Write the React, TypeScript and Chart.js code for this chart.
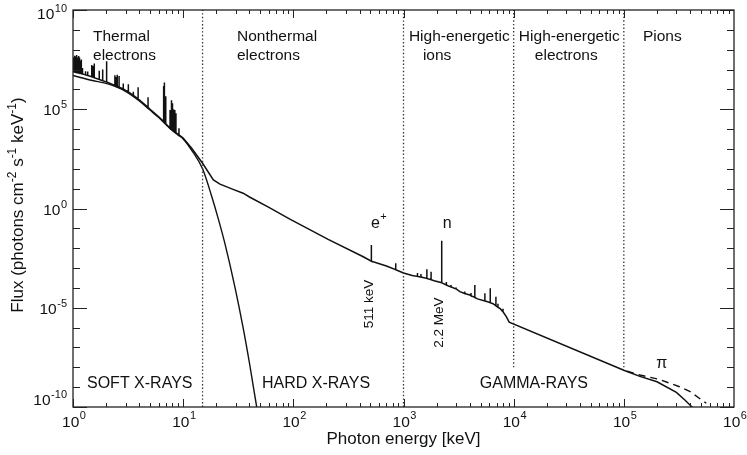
import React, { useEffect, useRef } from "react";
import { Chart, registerables } from "chart.js";

Chart.register(...registerables);

const FONT = "'Liberation Sans', Arial, Helvetica, sans-serif";
const INK = "#111";

// Total spectrum continuum (photon energy keV, flux photons cm^-2 s^-1 keV^-1)
const continuumEnergy = [1, 1.5, 2, 2.5, 3, 4, 5, 6, 7, 8, 9, 10, 12, 15, 18.8, 21.6, 28, 35, 40, 60, 93, 207, 431, 700, 1000, 1200, 1900, 2600, 3250, 3990, 4700, 5800, 6500, 7500, 8600, 9100, 1e5, 1.4e5, 2e5, 3e5, 3.6e5, 4.2e5];
const continuumFlux = [7.9e6, 4.2e6, 2.4e6, 1.5e6, 8.9e5, 3.0e5, 1.0e5, 4.2e4, 1.8e4, 9.1e3, 5.5e3, 3.5e3, 1.05e3, 190, 27.5, 17, 9.5, 5.9, 3.8, 1.15, 0.29, 0.028, 3.7e-3, 1.26e-3, 5.6e-4, 4.2e-4, 2.3e-4, 1.2e-4, 6.5e-5, 4.4e-5, 2.8e-5, 2.0e-5, 1.6e-5, 9.3e-6, 3.5e-6, 1.9e-6, 7.1e-9, 3.5e-9, 1.86e-9, 5.4e-10, 2.2e-10, 9.5e-11];

// Spectral lines: energy, continuum under the line, peak flux
const spikeEnergy = [1.01, 1.02, 1.03, 1.04, 1.05, 1.06, 1.07, 1.085, 1.10, 1.12, 1.13, 1.145, 1.16, 1.19, 1.22, 1.30, 1.36, 1.48, 1.52, 1.56, 1.73, 1.86, 2.02, 2.40, 2.46, 2.52, 2.62, 2.86, 3.18, 3.53, 3.90, 4.80, 6.65, 6.70, 6.75, 6.80, 6.95, 7.60, 7.80, 7.86, 8.00, 8.10, 8.25, 8.40, 8.60, 9.16, 511, 850, 1340, 1440, 1630, 1780, 2223, 2450, 2700, 3000, 3600, 4100, 4440, 5480, 6130, 6900, 7200, 8000];
const spikeBase = [7.8e6, 7.7e6, 7.6e6, 7.5e6, 7.4e6, 7.3e6, 7.2e6, 7.0e6, 6.9e6, 6.8e6, 6.7e6, 6.6e6, 6.5e6, 6.2e6, 6.0e6, 5.4e6, 5.0e6, 4.3e6, 4.1e6, 3.9e6, 3.2e6, 2.75e6, 2.35e6, 1.6e6, 1.55e6, 1.45e6, 1.3e6, 1.05e6, 7.6e5, 5.0e5, 3.3e5, 1.26e5, 2.4e4, 2.3e4, 2.25e4, 2.2e4, 1.9e4, 1.1e4, 1.0e4, 9.8e3, 9.1e3, 8.5e3, 8.0e3, 7.2e3, 6.6e3, 5.1e3, 2.2e-3, 8.3e-4, 3.8e-4, 3.5e-4, 3.0e-4, 2.6e-4, 1.8e-4, 1.4e-4, 1.12e-4, 8.9e-5, 5.2e-5, 4.0e-5, 3.3e-5, 2.2e-5, 1.8e-5, 1.26e-5, 1.05e-5, 6.3e-6];
const spikePeak = [4.2e7, 3.0e7, 5.0e7, 4.4e7, 3.5e7, 4.6e7, 5.4e7, 3.8e7, 4.0e7, 3.6e7, 4.8e7, 4.0e7, 2.8e7, 3.2e7, 1.2e7, 8.3e6, 7.9e6, 1.7e7, 1.5e7, 2.0e7, 8.7e6, 1.0e7, 2.6e7, 5.2e6, 4.2e6, 5.4e6, 4.8e6, 2.0e6, 1.8e6, 7.6e5, 1.3e6, 4.0e5, 1.5e6, 2.2e6, 1.2e6, 7.9e5, 4.5e5, 9.1e4, 1.5e5, 2.8e5, 2.0e5, 1.0e5, 7.0e4, 9.1e4, 6.3e4, 1.1e4, 1.45e-2, 1.74e-3, 5.6e-4, 5.0e-4, 8.7e-4, 6.6e-4, 2.4e-2, 2.0e-4, 1.4e-4, 1.05e-4, 6.6e-5, 5.6e-5, 1.4e-4, 5.4e-5, 9.5e-5, 3.6e-5, 1.6e-5, 8.9e-6];

// Thermal bremsstrahlung continuum
const thermalEnergy = [1, 1.5, 2, 3, 4, 5, 6, 7, 8, 9, 10, 12, 15, 18, 21, 24, 29.5, 35, 40, 43.3, 47];
const thermalFlux = [5.0e6, 2.8e6, 2.0e6, 8.0e5, 2.6e5, 9.1e4, 3.8e4, 1.66e4, 8.3e3, 5.0e3, 3.2e3, 8.3e2, 1.0e2, 4.8, 0.26, 1.6e-2, 1.1e-4, 1.0e-6, 1.6e-8, 1.1e-9, 7e-11];

// Pion-decay component (dashed)
const pionEnergy = [1.07e5, 1.4e5, 2.1e5, 3.2e5, 4.0e5, 5.6e5];
const pionFlux = [6.3e-9, 4.1e-9, 2.45e-9, 1.05e-9, 5.9e-10, 1.55e-10];

// Region boundaries (dotted)
const boundaryEnergy = [15, 1000, 1e4, 1e5];
const boundaryLow = [1e-10, 1e-10, 1e-8, 1e-8];
const boundaryHigh = [1e10, 1e10, 1e10, 1e10];

// Tick labels (exponents of ten)
const xTickExponents = [0, 1, 2, 3, 4, 5, 6];
const yTickExponents = [-10, -5, 0, 5, 10];

// Region captions
const regionText = [["Thermal", "electrons"], ["Nonthermal", "electrons"], ["High-energetic", "ions"], ["High-energetic", "electrons"], ["Pions"]];
const regionEnergy = [[1.52, 1.52], [30.8, 30.8], [1120, 1500], [11150, 15560], [1.49e5]];
const bandText = ["SOFT X-RAYS", "HARD X-RAYS", "GAMMA-RAYS"];
const bandEnergy = [1.34, 51.9, 4930];

function buildTotal() {
  const pts: { x: number; y: number; o: number }[] = [];
  continuumEnergy.forEach((e, i) => pts.push({ x: e, y: continuumFlux[i], o: 0 }));
  spikeEnergy.forEach((e, i) => {
    pts.push({ x: e, y: spikeBase[i], o: 1 }, { x: e, y: spikePeak[i], o: 2 }, { x: e, y: spikeBase[i], o: 3 });
  });
  pts.sort((a, b) => a.x - b.x || a.o - b.o);
  return pts.map(({ x, y }) => ({ x, y }));
}

function supLabel(ctx: CanvasRenderingContext2D, x: number, y: number, base: string, sup: string, size: number, supSize: number, align: "left" | "right" | "center", rise: number) {
  ctx.font = `${size}px ${FONT}`;
  const wb = ctx.measureText(base).width;
  ctx.font = `${supSize}px ${FONT}`;
  const ws = ctx.measureText(sup).width;
  const total = wb + ws + 0.5;
  const start = align === "right" ? x - total : align === "center" ? x - total / 2 : x;
  ctx.textAlign = "left";
  ctx.textBaseline = "alphabetic";
  ctx.font = `${size}px ${FONT}`;
  ctx.fillText(base, start, y);
  ctx.font = `${supSize}px ${FONT}`;
  ctx.fillText(sup, start + wb + 0.5, y - rise);
}

const decorPlugin = {
  id: "decor",
  afterDraw(chart: any) {
    const { ctx, chartArea: a, scales } = chart;
    const xs = scales.x;
    const ys = scales.y;
    const X = (v: number) => xs.getPixelForValue(v);
    const Y = (v: number) => ys.getPixelForValue(v);
    ctx.save();
    // frame
    ctx.strokeStyle = "#222";
    ctx.lineWidth = 1.3;
    ctx.strokeRect(a.left, a.top, a.right - a.left, a.bottom - a.top);
    // ticks
    ctx.lineWidth = 1;
    ctx.beginPath();
    for (let d = 0; d < 6; d++) {
      for (let m = 1; m <= 9; m++) {
        const px = Math.round(X(m * Math.pow(10, d))) + 0.5;
        const len = m === 1 ? 8 : 4;
        ctx.moveTo(px, a.bottom);
        ctx.lineTo(px, a.bottom - len);
        ctx.moveTo(px, a.top);
        ctx.lineTo(px, a.top + len);
      }
    }
    for (let n = -10; n <= 10; n++) {
      const py = Math.round(Y(Math.pow(10, n))) + 0.5;
      const len = n % 5 === 0 ? 14 : 7;
      ctx.moveTo(a.left, py);
      ctx.lineTo(a.left + len, py);
      ctx.moveTo(a.right, py);
      ctx.lineTo(a.right - len, py);
    }
    ctx.stroke();

    ctx.fillStyle = INK;
    // x tick labels
    xTickExponents.forEach((e) => {
      supLabel(ctx, X(Math.pow(10, e)) + 1, 427, "10", String(e), 15.5, 11, "center", 8);
    });
    // y tick labels
    yTickExponents.forEach((e) => {
      const py = Y(Math.pow(10, e));
      const shift = e === 10 ? 9 : e === -10 ? -2 : 6;
      supLabel(ctx, a.left - 6, py + shift, "10", String(e), 15.5, 11, "right", 7);
    });

    // x title
    ctx.font = `17px ${FONT}`;
    ctx.textAlign = "center";
    ctx.textBaseline = "alphabetic";
    ctx.fillText("Photon energy [keV]", (a.left + a.right) / 2, 444);

    // y title (rotated, with superscripts)
    const segs: [string, boolean][] = [["Flux (photons cm", false], ["-2", true], [" s", false], ["-1", true], [" keV", false], ["-1", true], [")", false]];
    let totalW = 0;
    const widths = segs.map(([t, s]) => {
      ctx.font = `${s ? 12 : 17}px ${FONT}`;
      const w = ctx.measureText(t).width;
      totalW += w;
      return w;
    });
    ctx.save();
    ctx.translate(23, 205);
    ctx.rotate(-Math.PI / 2);
    ctx.textAlign = "left";
    let cx = -totalW / 2;
    segs.forEach(([t, s], i) => {
      ctx.font = `${s ? 12 : 17}px ${FONT}`;
      ctx.fillText(t, cx, s ? -7 : 0);
      cx += widths[i];
    });
    ctx.restore();

    // region captions
    const row1 = Y(2.7e8);
    const row2 = Y(2.9e7);
    ctx.font = `15.5px ${FONT}`;
    ctx.textAlign = "left";
    regionText.forEach((lines, i) => {
      lines.forEach((t, j) => {
        ctx.fillText(t, X(regionEnergy[i][j]), j === 0 ? row1 : row2);
      });
    });
    // band captions
    ctx.font = `16px ${FONT}`;
    const bandY = Y(9e-10);
    bandText.forEach((t, i) => ctx.fillText(t, X(bandEnergy[i]), bandY));

    // line annotations
    const annY = Y(0.105);
    supLabel(ctx, X(506), annY, "e", "+", 16, 11, "left", 8);
    ctx.font = `16px ${FONT}`;
    ctx.textAlign = "left";
    ctx.fillText("n", X(2277), annY);

    ctx.font = `13.5px ${FONT}`;
    ctx.textAlign = "center";
    ctx.save();
    ctx.translate(X(466) + 6, Y(1.55e-5));
    ctx.rotate(-Math.PI / 2);
    ctx.fillText("511 keV", 0, 0);
    ctx.restore();
    ctx.save();
    ctx.translate(X(2030) + 6, Y(1.8e-6));
    ctx.rotate(-Math.PI / 2);
    ctx.fillText("2.2 MeV", 0, 0);
    ctx.restore();

    ctx.font = `16px ${FONT}`;
    ctx.textAlign = "center";
    ctx.textBaseline = "middle";
    ctx.fillText("π", X(2.21e5), Y(1.48e-8));
    ctx.restore();
  },
};

export default function App() {
  const ref = useRef<HTMLCanvasElement | null>(null);
  useEffect(() => {
    if (!ref.current) return;
    const lineStyle = { showLine: true, pointRadius: 0, borderColor: INK, borderWidth: 1.4, tension: 0, fill: false };
    const boundarySets = boundaryEnergy.map((e, i) => ({
      data: [{ x: e, y: boundaryLow[i] }, { x: e, y: boundaryHigh[i] }],
      showLine: true,
      pointRadius: 0,
      borderColor: "#333",
      borderWidth: 1.3,
      borderDash: [1.4, 2.2],
    }));
    const chart = new Chart(ref.current, {
      type: "scatter",
      data: {
        datasets: [
          ...boundarySets,
          { ...lineStyle, cubicInterpolationMode: "monotone", data: thermalEnergy.map((e, i) => ({ x: e, y: thermalFlux[i] })) },
          { ...lineStyle, borderWidth: 1.5, data: buildTotal() },
          { ...lineStyle, borderDash: [7, 5], data: pionEnergy.map((e, i) => ({ x: e, y: pionFlux[i] })) },
        ] as any,
      },
      options: {
        responsive: false,
        animation: false,
        devicePixelRatio: 1,
        layout: { padding: { left: 73, right: 13, top: 10, bottom: 48 } },
        plugins: { legend: { display: false }, tooltip: { enabled: false } },
        events: [],
        scales: {
          x: { type: "logarithmic", min: 1, max: 1e6, display: false },
          y: { type: "logarithmic", min: 1e-10, max: 1e10, display: false },
        },
      },
      plugins: [decorPlugin],
    });
    return () => chart.destroy();
  }, []);
  return (
    <div style={{ position: "fixed", left: 0, top: 0, width: 747, height: 455, background: "#fff" }}>
      <canvas ref={ref} width={747} height={455} style={{ display: "block" }} />
    </div>
  );
}
